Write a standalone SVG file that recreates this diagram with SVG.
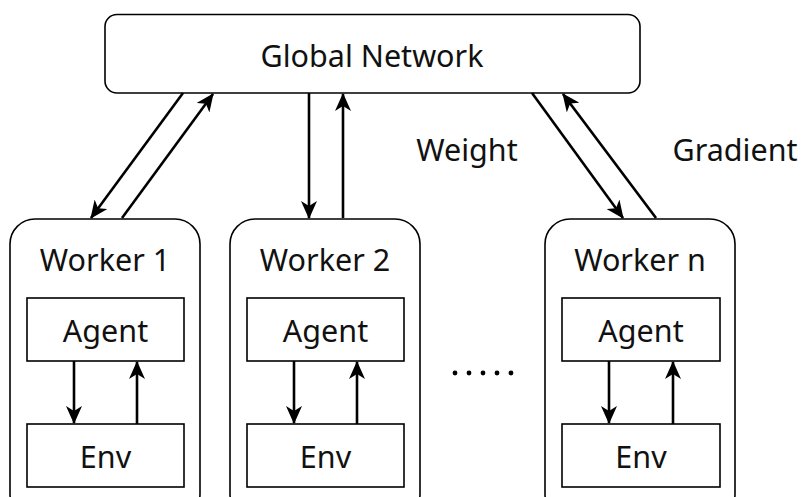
<svg xmlns="http://www.w3.org/2000/svg" width="802" height="497" viewBox="0 0 802 497">
  <style>
    .box { fill: #ffffff; stroke: #000000; stroke-width: 1.6; }
    .lbl { font-family: "Noto Sans", "Open Sans", sans-serif; font-size: 30.5px; fill: #111111; text-anchor: middle; }
    .arr { stroke: #000000; stroke-width: 2.6; fill: none; marker-end: url(#head); }
  </style>
  <defs>
    <marker id="head" viewBox="0 0 18 16" refX="17" refY="8" markerWidth="18" markerHeight="16" markerUnits="userSpaceOnUse" orient="auto">
      <path d="M0,0 L18,8 L0,16 L5,8 Z" fill="#000000"/>
    </marker>
  </defs>
  <rect width="802" height="497" fill="#ffffff"/>

  <g id="global-network">
    <rect class="box" x="105" y="14.5" width="535" height="78.5" rx="12"/>
    <text class="lbl" x="372" y="67">Global Network</text>
  </g>

  <g id="worker-1">
    <rect class="box" x="10" y="219" width="190" height="300" rx="25"/>
    <text class="lbl" x="105" y="271">Worker 1</text>
    <g id="agent-1">
      <rect class="box" x="27" y="298" width="157" height="63"/>
      <text class="lbl" x="105.5" y="342">Agent</text>
    </g>
    <g id="env-1">
      <rect class="box" x="27" y="424" width="157" height="63"/>
      <text class="lbl" x="105.5" y="468">Env</text>
    </g>
  </g>

  <g id="worker-2">
    <rect class="box" x="230" y="219" width="190" height="300" rx="25"/>
    <text class="lbl" x="325" y="271">Worker 2</text>
    <g id="agent-2">
      <rect class="box" x="247" y="298" width="157" height="63"/>
      <text class="lbl" x="325.5" y="342">Agent</text>
    </g>
    <g id="env-2">
      <rect class="box" x="247" y="424" width="157" height="63"/>
      <text class="lbl" x="325.5" y="468">Env</text>
    </g>
  </g>

  <g id="worker-n">
    <rect class="box" x="545" y="219" width="190" height="300" rx="25"/>
    <text class="lbl" x="640" y="271">Worker n</text>
    <g id="agent-n">
      <rect class="box" x="562" y="298" width="158" height="63"/>
      <text class="lbl" x="641" y="342">Agent</text>
    </g>
    <g id="env-n">
      <rect class="box" x="562" y="424" width="158" height="63"/>
      <text class="lbl" x="641" y="468">Env</text>
    </g>
  </g>

  <g id="ellipsis" fill="#000000">
    <circle cx="455" cy="373" r="2.4"/>
    <circle cx="469" cy="373" r="2.4"/>
    <circle cx="483" cy="373" r="2.4"/>
    <circle cx="497" cy="373" r="2.4"/>
    <circle cx="511" cy="373" r="2.4"/>
  </g>

  <g id="labels">
    <text class="lbl" x="467" y="161">Weight</text>
    <text class="lbl" x="735" y="161">Gradient</text>
  </g>

  <g id="connectors">
    <!-- weights down, gradients up -->
    <line class="arr" x1="183" y1="93" x2="91" y2="218"/>
    <line class="arr" x1="122" y1="218" x2="213" y2="94"/>
    <line class="arr" x1="309" y1="93" x2="309" y2="218"/>
    <line class="arr" x1="343" y1="218" x2="343" y2="94"/>
    <line class="arr" x1="532" y1="93" x2="623" y2="218"/>
    <line class="arr" x1="656" y1="218" x2="563" y2="94"/>
    <!-- agent / environment loops -->
    <line class="arr" x1="74" y1="361" x2="74" y2="423"/>
    <line class="arr" x1="137" y1="424" x2="137" y2="362"/>
    <line class="arr" x1="294" y1="361" x2="294" y2="423"/>
    <line class="arr" x1="357" y1="424" x2="357" y2="362"/>
    <line class="arr" x1="609" y1="361" x2="609" y2="423"/>
    <line class="arr" x1="673" y1="424" x2="673" y2="362"/>
  </g>
</svg>
